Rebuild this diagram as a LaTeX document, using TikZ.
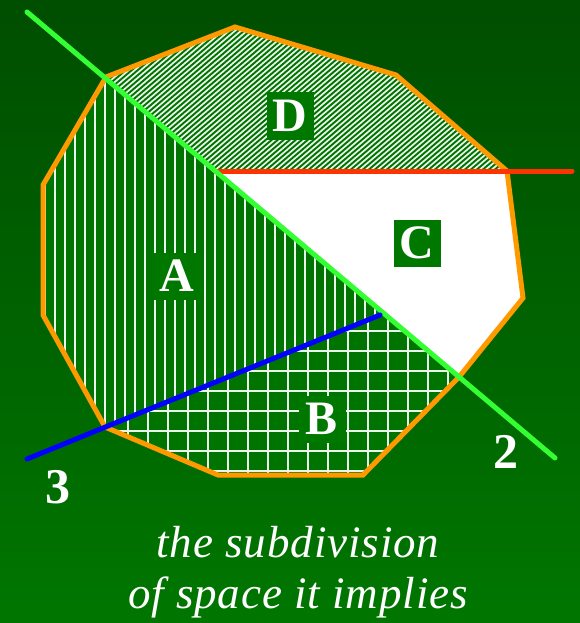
\documentclass[tikz,border=0pt]{standalone}
\usepackage{fontspec}
\setmainfont{Liberation Serif}
\newfontfamily\capfont[LetterSpace=2]{Liberation Serif}
\usetikzlibrary{calc}
\definecolor{bgtop}{RGB}{0,78,0}
\definecolor{bgbot}{RGB}{0,118,0}
\definecolor{regfill}{RGB}{0,116,0}
\definecolor{boxgreen}{RGB}{0,120,0}
\definecolor{hatch}{RGB}{235,245,235}
\definecolor{edgeorange}{RGB}{255,153,0}
\definecolor{linegreen}{RGB}{51,255,51}
\definecolor{linered}{RGB}{255,51,0}
\definecolor{lineblue}{RGB}{0,0,255}
\tikzset{
  hatchline/.style={draw=hatch, line width=2.2pt},
  splitline/.style={line width=5pt, line cap=round},
  regionlabel/.style={fill=boxgreen, text=white, font=\fontsize{48}{48}\selectfont\bfseries, minimum width=47pt, minimum height=47pt, inner sep=0pt},
  numlabel/.style={text=white, font=\fontsize{50}{50}\selectfont\bfseries, inner sep=0pt},
  captext/.style={text=white, font=\capfont\fontsize{45}{51}\selectfont\itshape, anchor=base},
}
\begin{document}
\begin{tikzpicture}[x=1pt,y=-1pt]
\useasboundingbox (0,0) rectangle (580,623);
\shade[top color=bgtop, bottom color=bgbot] (0,0) rectangle (580,623);
% key points
\coordinate (P1) at (106,77);
\coordinate (P2) at (235,27);
\coordinate (P3) at (396,75);
\coordinate (P4) at (507,171);
\coordinate (P5) at (523,298);
\coordinate (P6) at (459,377);
\coordinate (P7) at (363,475);
\coordinate (P8) at (218,475);
\coordinate (P9) at (105,427);
\coordinate (P10) at (43,315);
\coordinate (P11) at (43,185);
\coordinate (GR) at (215,171);
\coordinate (BG) at (384,313);
\coordinate (G1) at (27,12);
\coordinate (G2) at (555,458);
\coordinate (R2) at (572,171);
\coordinate (B1) at (27,459);
\coordinate (B2) at (380,315);
% region D: diagonal hatching
\begin{scope}
\clip (P1) -- (P2) -- (P3) -- (P4) -- (GR) -- cycle;
\fill[regfill] (0,0) rectangle (580,623);
\foreach \i in {0,...,110} {
  \draw[draw=hatch, line width=1.7pt] (-120+6*\i,200) -- ++(220,-187);
}
\end{scope}
% region C: white
\fill[white] (GR) -- (P4) -- (P5) -- (P6) -- cycle;
% region A: vertical lines
\begin{scope}
\clip (P1) -- (GR) -- (BG) -- (P9) -- (P10) -- (P11) -- cycle;
\fill[regfill] (0,0) rectangle (580,623);
\foreach \i in {0,...,36} {
  \draw[hatchline] (45+10*\i,60) -- (45+10*\i,440);
}
\end{scope}
% region B: grid
\begin{scope}
\clip (P9) -- (BG) -- (P6) -- (P7) -- (P8) -- cycle;
\fill[regfill] (0,0) rectangle (580,623);
\foreach \i in {0,...,20} {
  \draw[hatchline] (88+20*\i,300) -- (88+20*\i,480);
}
\foreach \j in {0,...,10} {
  \draw[hatchline] (100,291+20*\j) -- (470,291+20*\j);
}
\end{scope}
% outlines
\draw[edgeorange, line width=5pt, line join=miter]
  (P1) -- (P2) -- (P3) -- (P4) -- (P5) -- (P6) -- (P7) -- (P8) -- (P9) -- (P10) -- (P11) -- cycle;
\draw[edgeorange, line width=3pt] (GR) -- (P6);
% splitting lines
\draw[splitline, linered] (GR) -- (R2);
\draw[splitline, linegreen] (G1) -- (G2);
\draw[splitline, lineblue] (B1) -- (B2);
% labels
\node[regionlabel] (A) at (177,276) {A};
\node[regionlabel] (B) at (322,419) {B};
\node[regionlabel] (C) at (417,243) {C};
\node[regionlabel] (D) at (290,116) {D};
\node[numlabel] (n2) at (506,452) {2};
\node[numlabel] (n3) at (58,487) {3};
\node[captext] (cap1) at (298,557) {the subdivision};
\node[captext] (cap2) at (298,608) {of space it implies};
\end{tikzpicture}
\end{document}
